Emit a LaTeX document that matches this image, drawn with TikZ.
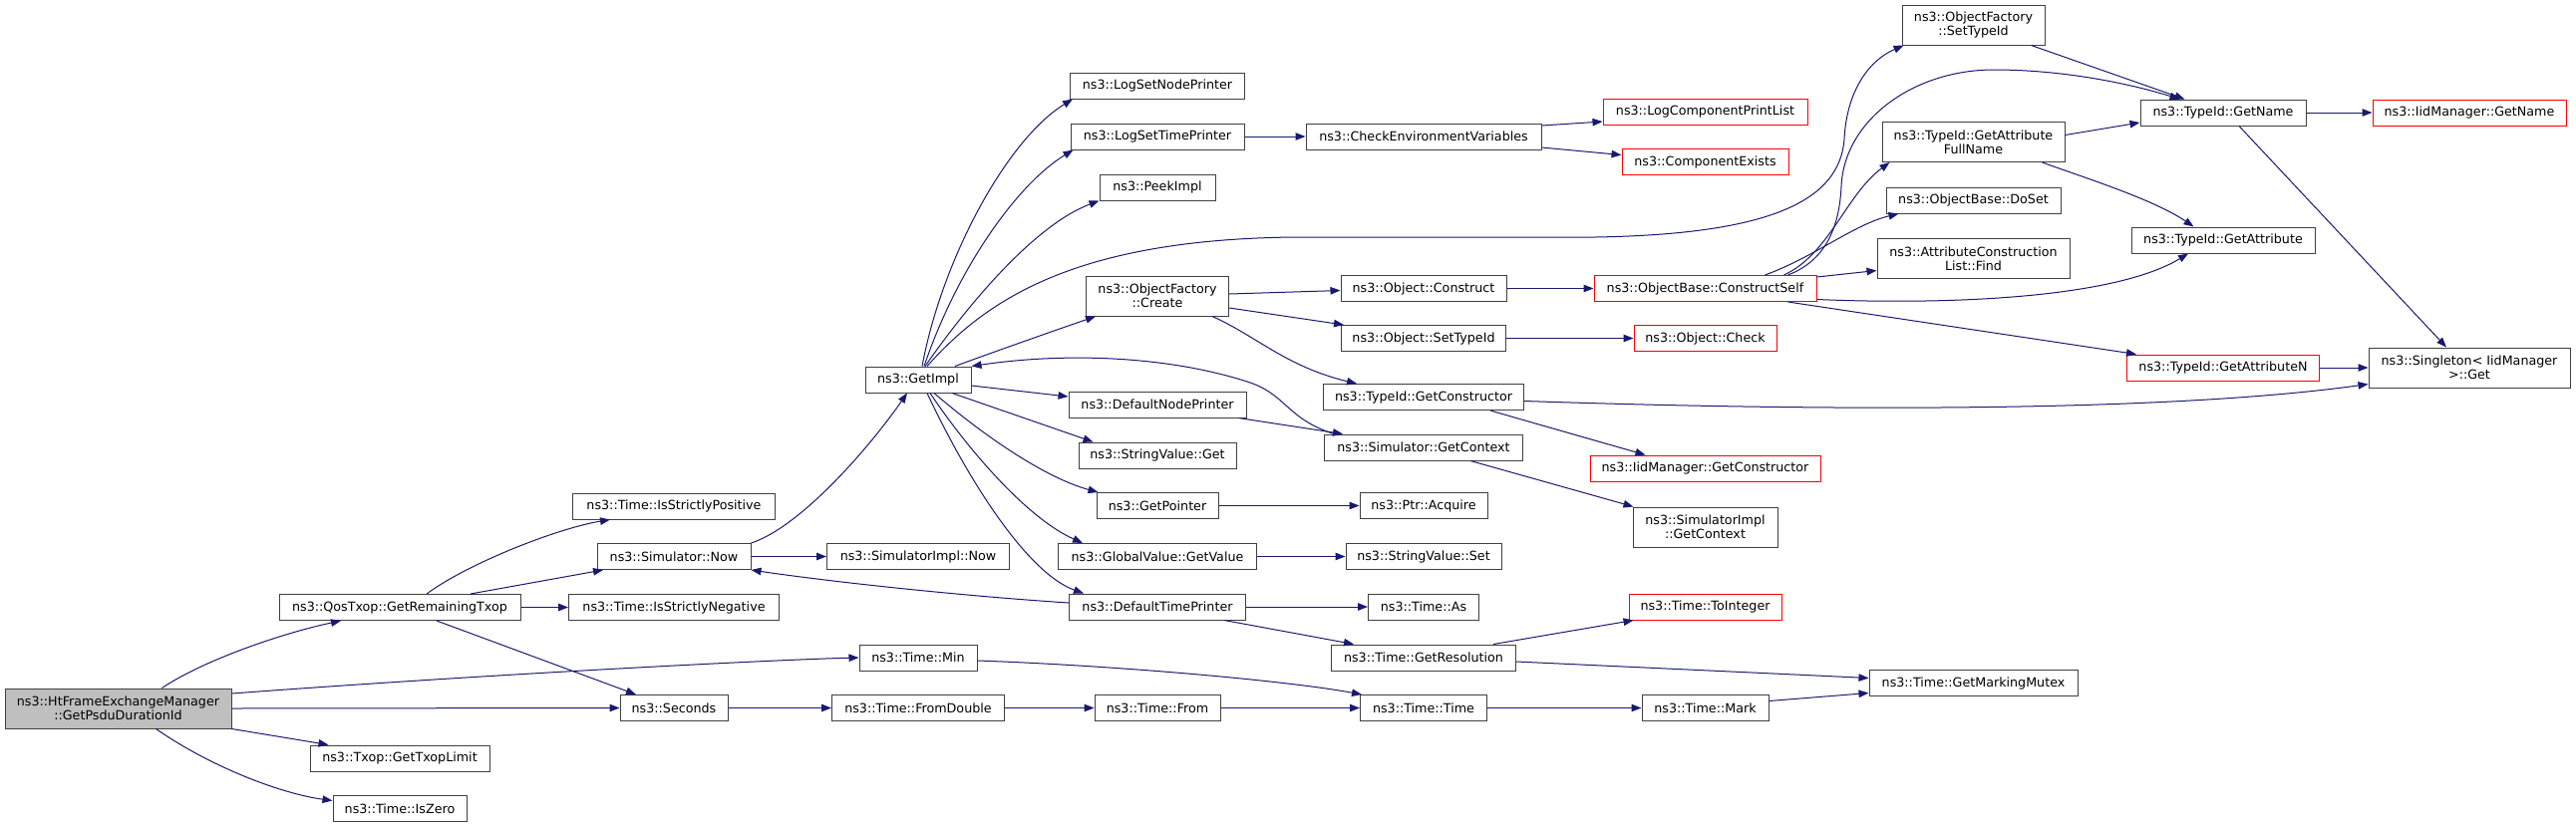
\documentclass[tikz,border=0pt]{standalone}
\usepackage{fontspec}
\setmainfont{DejaVu Sans}
\usetikzlibrary{arrows.meta,calc}
\definecolor{edgeblue}{HTML}{191970}
\definecolor{boxgray}{HTML}{404040}
\definecolor{rootfill}{HTML}{BFBFBF}
\begin{document}
\begin{tikzpicture}[x=1pt,y=-1pt,
  box/.style={draw=boxgray, line width=1pt, fill=white, inner sep=0pt, minimum height=26pt, align=center, font=\fontsize{12.7}{14}\selectfont},
  rbox/.style={box, draw=red},
  dbl/.style={minimum height=40pt},
  conn/.style={draw=edgeblue, line width=1pt, -{Triangle[length=10pt,width=7.5pt]}, fill=none},
]
\useasboundingbox (0,0) rectangle (2584,831);
\fill[white] (0,0) rectangle (2584,831);
% column 0
\node[box, dbl, fill=rootfill, minimum width=227pt] (HtFrame) at (118.5,711) {ns3::HtFrameExchangeManager\\::GetPsduDurationId};
% column 1
\node[box, minimum width=242pt] (QosTxop) at (401,609.5) {ns3::QosTxop::GetRemainingTxop};
\node[box, minimum width=180pt] (TxopLimit) at (401,761) {ns3::Txop::GetTxopLimit};
\node[box, minimum width=134pt] (IsZero) at (401,811.5) {ns3::Time::IsZero};
% column 2
\node[box, minimum width=203pt] (IsSP) at (676,508) {ns3::Time::IsStrictlyPositive};
\node[box, minimum width=154pt] (SimNow) at (676,558.5) {ns3::Simulator::Now};
\node[box, minimum width=211pt] (IsSN) at (676,609.5) {ns3::Time::IsStrictlyNegative};
\node[box, minimum width=108pt] (Seconds) at (676,710.5) {ns3::Seconds};
% column 3
\node[box, minimum width=106pt] (GetImpl) at (921,381) {ns3::GetImpl};
\node[box, minimum width=183pt] (SimImplNow) at (921,558.5) {ns3::SimulatorImpl::Now};
\node[box, minimum width=118pt] (TimeMin) at (921,660) {ns3::Time::Min};
\node[box, minimum width=173pt] (FromDouble) at (921,710.5) {ns3::Time::FromDouble};
% column 4
\node[box, minimum width=175pt] (LSNP) at (1161,86) {ns3::LogSetNodePrinter};
\node[box, minimum width=174pt] (LSTP) at (1161,137) {ns3::LogSetTimePrinter};
\node[box, minimum width=116pt] (PeekImpl) at (1161,188) {ns3::PeekImpl};
\node[box, dbl, minimum width=143pt] (Create) at (1161,297) {ns3::ObjectFactory\\::Create};
\node[box, minimum width=178pt] (DNP) at (1161,406) {ns3::DefaultNodePrinter};
\node[box, minimum width=158pt] (SVGet) at (1161,457) {ns3::StringValue::Get};
\node[box, minimum width=122pt] (GetPointer) at (1161,507.5) {ns3::GetPointer};
\node[box, minimum width=199pt] (GetValue) at (1161,558.5) {ns3::GlobalValue::GetValue};
\node[box, minimum width=177pt] (DTP) at (1161,609) {ns3::DefaultTimePrinter};
\node[box, minimum width=126pt] (TimeFrom) at (1161,710.5) {ns3::Time::From};
% column 5
\node[box, minimum width=236pt] (CheckEnv) at (1428,137) {ns3::CheckEnvironmentVariables};
\node[box, minimum width=166pt] (ObjConstruct) at (1428,289.5) {ns3::Object::Construct};
\node[box, minimum width=165pt] (ObjSetTypeId) at (1428,339.5) {ns3::Object::SetTypeId};
\node[box, minimum width=201pt] (GetConstructor) at (1428,398.5) {ns3::TypeId::GetConstructor};
\node[box, minimum width=199pt] (SimGetContext) at (1428,449) {ns3::Simulator::GetContext};
\node[box, minimum width=128pt] (Acquire) at (1428,507.5) {ns3::Ptr::Acquire};
\node[box, minimum width=156pt] (SVSet) at (1428,558.5) {ns3::StringValue::Set};
\node[box, minimum width=111pt] (TimeAs) at (1428,609) {ns3::Time::As};
\node[box, minimum width=185pt] (GetResolution) at (1428,660) {ns3::Time::GetResolution};
\node[box, minimum width=127pt] (TimeTime) at (1428,710.5) {ns3::Time::Time};
% column 6
\node[rbox, minimum width=205pt] (LCPL) at (1710.5,112) {ns3::LogComponentPrintList};
\node[rbox, minimum width=167pt] (CompExists) at (1710.5,162.5) {ns3::ComponentExists};
\node[rbox, minimum width=223pt] (ConstructSelf) at (1710.5,289.5) {ns3::ObjectBase::ConstructSelf};
\node[rbox, minimum width=143pt] (ObjCheck) at (1710.5,339.5) {ns3::Object::Check};
\node[rbox, minimum width=231pt] (IidGetConstructor) at (1710.5,470) {ns3::IidManager::GetConstructor};
\node[box, dbl, minimum width=145pt] (SimImplGetContext) at (1710.5,529) {ns3::SimulatorImpl\\::GetContext};
\node[rbox, minimum width=153pt] (ToInteger) at (1710.5,609) {ns3::Time::ToInteger};
\node[box, minimum width=127pt] (Mark) at (1710.5,710.5) {ns3::Time::Mark};
% column 7
\node[box, dbl, minimum width=143pt] (OFSetTypeId) at (1979.5,25) {ns3::ObjectFactory\\::SetTypeId};
\node[box, dbl, minimum width=183pt] (GetAttrFullName) at (1979.5,142.5) {ns3::TypeId::GetAttribute\\FullName};
\node[box, minimum width=175pt] (DoSet) at (1979.5,201) {ns3::ObjectBase::DoSet};
\node[box, dbl, minimum width=193pt] (Find) at (1979.5,259.5) {ns3::AttributeConstruction\\List::Find};
\node[box, minimum width=209pt] (GetMarkingMutex) at (1979.5,685.5) {ns3::Time::GetMarkingMutex};
% column 8
\node[box, minimum width=166pt] (GetName) at (2230,113) {ns3::TypeId::GetName};
\node[box, minimum width=184pt] (GetAttribute) at (2230,241) {ns3::TypeId::GetAttribute};
\node[rbox, minimum width=193pt] (GetAttributeN) at (2230,369) {ns3::TypeId::GetAttributeN};
% column 9
\node[rbox, minimum width=194pt] (IidGetName) at (2477,113) {ns3::IidManager::GetName};
\node[box, dbl, minimum width=202pt] (Singleton) at (2477,369) {ns3::Singleton< IidManager\\>::Get};

% ---- connectors ----
\draw[conn] ($(HtFrame.north)+(44,0)$) .. controls (205,662) and (285,635) .. ($(QosTxop.south)+(-59,0)$);
\draw[conn] ($(HtFrame.east)+(0,-15)$) .. controls (500,676) and (780,662) .. (TimeMin.west);
\draw[conn] (HtFrame.east) -- (Seconds.west);
\draw[conn] (HtFrame.south east) -- ($(TxopLimit.north west)+(19,0)$);
\draw[conn] ($(HtFrame.south)+(38,0)$) .. controls (215,772) and (285,797) .. ($(IsZero.west)+(0,-8)$);
\draw[conn] ($(QosTxop.north)+(27,0)$) .. controls (470,565) and (560,530) .. ($(IsSP.south)+(-64,0)$);
\draw[conn] ($(QosTxop.north)+(71,0)$) -- ($(SimNow.south)+(-71,0)$);
\draw[conn] (QosTxop.east) -- (IsSN.west);
\draw[conn] ($(QosTxop.south)+(37,0)$) -- ($(Seconds.north)+(-38,0)$);
\draw[conn] (SimNow.north east) .. controls (805,528) and (875,445) .. ($(GetImpl.south)+(-11,0)$);
\draw[conn] (SimNow.east) -- (SimImplNow.west);
\draw[conn] ($(DTP.west)+(0,-4)$) .. controls (950,597) and (820,582) .. (SimNow.south east);
\draw[conn] (Seconds.east) -- (FromDouble.west);
\draw[conn] ($(TimeMin.east)+(0,3)$) .. controls (1120,668) and (1290,683) .. ($(TimeTime.north west)+(2,0)$);
\draw[conn] (FromDouble.east) -- (TimeFrom.west);
\draw[conn] (TimeFrom.east) -- (TimeTime.west);
% GetImpl fan
\draw[conn] ($(GetImpl.north)+(4,0)$) .. controls (945,260) and (1010,140) .. ($(LSNP.south west)+(3,0)$);
\draw[conn] ($(GetImpl.north)+(6,0)$) .. controls (960,270) and (1020,185) .. ($(LSTP.south west)+(3,0)$);
\draw[conn] ($(GetImpl.north)+(7,0)$) .. controls (975,300) and (1040,225) .. (PeekImpl.south west);
\draw[conn] ($(GetImpl.north)+(9,0)$) .. controls (990,300) and (1080,240) .. (1300,238) -- (1600,238) .. controls (1780,235) and (1845,200) .. (1850,140) .. controls (1852,95) and (1872,62) .. ($(OFSetTypeId.south west)+(2,0)$);
\draw[conn] ($(GetImpl.north)+(37,0)$) .. controls (1000,352) and (1060,331) .. ($(Create.south west)+(10,0)$);
\draw[conn] ($(GetImpl.east)+(0,6)$) -- ($(DNP.west)+(0,-8)$);
\draw[conn] ($(GetImpl.south)+(34,0)$) -- ($(SVGet.north west)+(15,0)$);
\draw[conn] ($(GetImpl.south)+(16,0)$) .. controls (990,440) and (1050,480) .. ($(GetPointer.north west)+(2,0)$);
\draw[conn] ($(GetImpl.south)+(12,0)$) .. controls (970,450) and (1030,520) .. ($(GetValue.north west)+(25,0)$);
\draw[conn] ($(GetImpl.south)+(9,0)$) .. controls (970,480) and (1030,575) .. ($(DTP.north west)+(15,0)$);
\draw[conn] ($(SimGetContext.north west)+(10,0)$) .. controls (1290,420) and (1290,395) .. (1251,383) .. controls (1180,360) and (1080,352) .. (GetImpl.north east);
% column 4 -> 5
\draw[conn] (LSTP.east) -- (CheckEnv.west);
\draw[conn] ($(Create.east)+(0,-2)$) -- ($(ObjConstruct.west)+(0,2)$);
\draw[conn] ($(Create.east)+(0,12)$) -- ($(ObjSetTypeId.north west)+(3,0)$);
\draw[conn] ($(Create.south)+(55,0)$) .. controls (1260,337) and (1290,368) .. ($(GetConstructor.north west)+(34,0)$);
\draw[conn] ($(DNP.south east)+(-8,0)$) -- ($(SimGetContext.north west)+(19,0)$);
\draw[conn] (GetPointer.east) -- (Acquire.west);
\draw[conn] (GetValue.east) -- (SVSet.west);
\draw[conn] (DTP.east) -- (TimeAs.west);
\draw[conn] ($(DTP.south)+(67,0)$) -- ($(GetResolution.north west)+(23,0)$);
% column 5 -> 6+
\draw[conn] ($(CheckEnv.east)+(0,-11)$) -- ($(LCPL.west)+(0,10)$);
\draw[conn] ($(CheckEnv.east)+(0,11)$) -- ($(CompExists.west)+(0,-7)$);
\draw[conn] (ObjConstruct.east) -- (ConstructSelf.west);
\draw[conn] (ObjSetTypeId.east) -- (ObjCheck.west);
\draw[conn] ($(GetConstructor.east)+(0,4)$) .. controls (1900,415) and (2200,410) .. ($(Singleton.south west)+(0,-4)$);
\draw[conn] ($(GetConstructor.south)+(67,0)$) .. controls (1540,425) and (1610,445) .. ($(IidGetConstructor.north)+(-60,0)$);
\draw[conn] ($(SimGetContext.south)+(47,0)$) -- ($(SimImplGetContext.north west)+(1,0)$);
\draw[conn] ($(GetResolution.north)+(70,0)$) -- ($(ToInteger.south west)+(5,0)$);
\draw[conn] ($(GetResolution.east)+(0,4)$) .. controls (1650,670) and (1780,676) .. ($(GetMarkingMutex.west)+(0,-5)$);
\draw[conn] (TimeTime.east) -- (Mark.west);
\draw[conn] ($(Mark.east)+(0,-7)$) -- ($(GetMarkingMutex.west)+(0,10)$);
% ConstructSelf fan
\draw[conn] ($(ConstructSelf.north)+(83,0)$) .. controls (1830,262) and (1845,230) .. (1847,187) .. controls (1850,120) and (1920,70) .. (2000,70) .. controls (2080,70) and (2150,88) .. ($(GetName.north west)+(40,0)$);
\draw[conn] ($(ConstructSelf.north)+(79,0)$) .. controls (1835,255) and (1852,195) .. ($(GetAttrFullName.south west)+(8,0)$);
\draw[conn] ($(ConstructSelf.north)+(60,0)$) .. controls (1820,258) and (1860,225) .. ($(DoSet.south west)+(13,0)$);
\draw[conn] ($(ConstructSelf.north east)+(0,2)$) -- ($(Find.west)+(0,12)$);
\draw[conn] ($(ConstructSelf.east)+(0,11)$) .. controls (1950,306) and (2120,300) .. ($(GetAttribute.south)+(-35,0)$);
\draw[conn] ($(ConstructSelf.south)+(83,0)$) -- ($(GetAttributeN.north west)+(10,0)$);
% right part
\draw[conn] ($(OFSetTypeId.south)+(58,0)$) -- ($(GetName.north west)+(45,0)$);
\draw[conn] ($(GetAttrFullName.east)+(0,-7)$) -- ($(GetName.west)+(0,10)$);
\draw[conn] ($(GetAttrFullName.south)+(69,0)$) .. controls (2090,178) and (2160,200) .. ($(GetAttribute.north west)+(63,0)$);
\draw[conn] (GetName.east) -- (IidGetName.west);
\draw[conn] ($(GetName.south)+(16,0)$) -- ($(Singleton.north)+(-23,0)$);
\draw[conn] (GetAttributeN.east) -- (Singleton.west);
\end{tikzpicture}
\end{document}
